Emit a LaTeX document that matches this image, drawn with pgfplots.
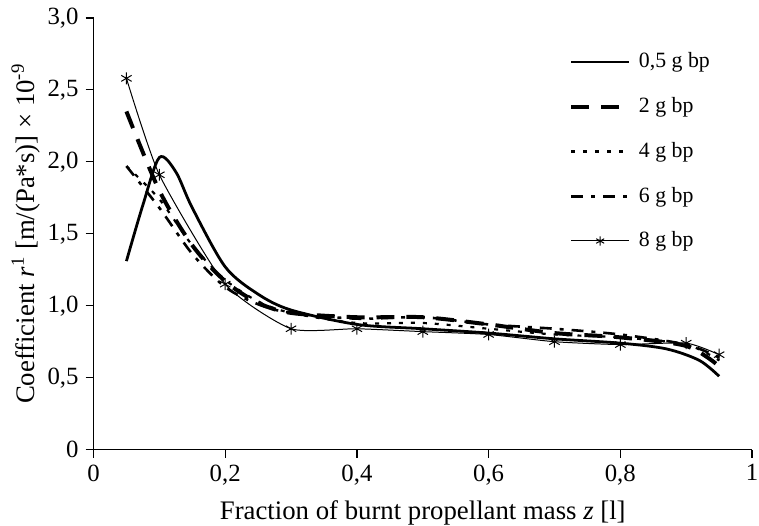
\documentclass[border=0pt]{standalone}
\usepackage{fontspec}
\setmainfont{Liberation Serif}
\usepackage{pgfplots}
\pgfplotsset{compat=1.18}
\pgfplotsset{starlegend/.style={legend image code/.code={\draw[##1,mark=none] (0bp,0bp) -- (29bp,0bp); \draw[##1,only marks,mark size=2.3bp] plot coordinates {(14.5bp,0bp)};}}}
\begin{document}
\begin{tikzpicture}[x=1bp,y=1bp]
\begin{axis}[
  name=ax,
  width=331bp, height=217bp, scale only axis,
  xmin=0, xmax=1, ymin=0, ymax=3,
  axis x line*=bottom, axis y line*=left,
  axis line style={line width=0.6bp, -},
  tick align=outside, tick style={line width=0.6bp, black},
  major tick length=4bp,
  xtick={0,0.2,0.4,0.6,0.8,1},
  xticklabels={0,{0,2},{0,4},{0,6},{0,8},1},
  ytick={0,0.5,1,1.5,2,2.5,3},
  yticklabels={0,{0,5},{1,0},{1,5},{2,0},{2,5},{3,0}},
  tick label style={font=\fontsize{12.5}{14}\selectfont},
  xlabel={Fraction of burnt propellant mass \textit{z} [l]},
  ylabel={Coefficient \textit{r}\textsuperscript{1} [m/(Pa*s)] × 10\textsuperscript{-9}},
  label style={font=\fontsize{13.5}{15}\selectfont},
  xlabel style={yshift=-1bp},
  ylabel style={yshift=-3bp},
  legend style={draw=none, fill=none, at={(0.722,0.945)}, anchor=north west, inner sep=0pt,
    font=\fontsize{11}{12}\selectfont, row sep=2.5bp,
    nodes={text height=9bp, text depth=3bp, inner sep=4bp}},
  legend cell align=left,
  legend image code/.code={\draw[#1] (0bp,0bp) -- (29bp,0bp);},
]
\addplot[black, line width=1.4bp, smooth, tension=0.5] coordinates {
(0.05,1.31) (0.075,1.70) (0.1,2.03) (0.125,1.93) (0.15,1.68) (0.2,1.27) (0.25,1.08) (0.3,0.97) (0.4,0.87) (0.5,0.84) (0.6,0.81) (0.7,0.77) (0.8,0.74) (0.87,0.70) (0.92,0.62) (0.95,0.51)};
\addlegendentry{0,5 g bp}
\addplot[black, line width=2bp, dash pattern=on 9bp off 6bp, smooth, tension=0.5] coordinates {
(0.05,2.35) (0.1,1.80) (0.15,1.42) (0.2,1.17) (0.25,1.02) (0.3,0.95) (0.4,0.92) (0.5,0.92) (0.6,0.87) (0.7,0.81) (0.8,0.78) (0.9,0.72) (0.95,0.58)};
\addlegendentry{2 g bp}
\addplot[black, line width=1.1bp, dash pattern=on 2bp off 4bp, smooth, tension=0.5] coordinates {
(0.05,1.97) (0.1,1.74) (0.15,1.42) (0.2,1.18) (0.25,1.03) (0.3,0.95) (0.4,0.88) (0.5,0.88) (0.6,0.84) (0.7,0.80) (0.8,0.78) (0.9,0.73) (0.95,0.62)};
\addlegendentry{4 g bp}
\addplot[black, line width=1.3bp, dash pattern=on 6bp off 4bp on 2bp off 4bp, smooth, tension=0.5] coordinates {
(0.05,1.97) (0.1,1.68) (0.15,1.36) (0.2,1.13) (0.25,1.01) (0.3,0.95) (0.4,0.91) (0.5,0.92) (0.6,0.87) (0.7,0.84) (0.8,0.80) (0.9,0.73) (0.95,0.64)};
\addlegendentry{6 g bp}
\addplot[black, line width=0.5bp, smooth, tension=0.35, mark=asterisk, mark size=3bp, mark options={line width=0.5bp}, starlegend] coordinates {
(0.05,2.58) (0.1,1.91) (0.2,1.15) (0.3,0.84) (0.4,0.84) (0.5,0.82) (0.6,0.80) (0.7,0.75) (0.8,0.73) (0.9,0.74) (0.95,0.66)};
\addlegendentry{8 g bp}
\end{axis}
\pgfresetboundingbox
\path ([xshift=-47bp,yshift=-38bp]ax.south west) rectangle ([xshift=3.5bp,yshift=9bp]ax.north east);
\end{tikzpicture}
\end{document}
